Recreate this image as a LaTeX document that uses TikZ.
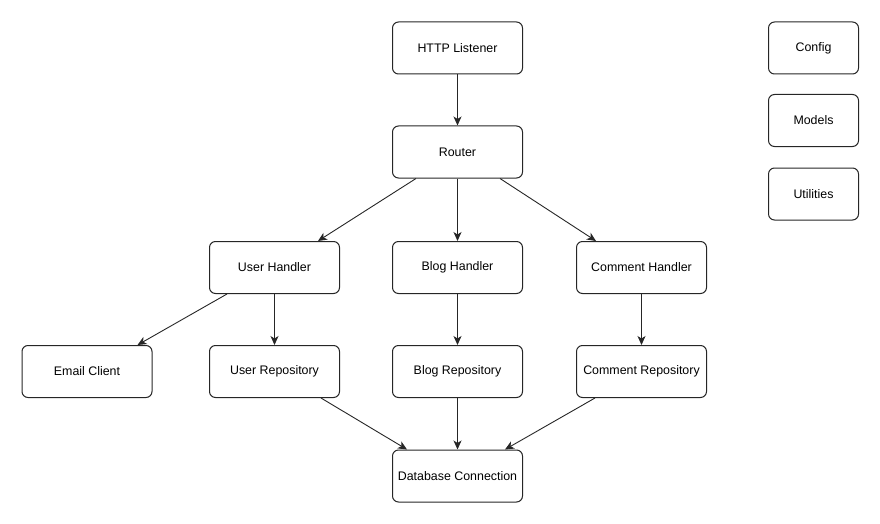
\documentclass[tikz,border=0pt]{standalone}
\usepackage{fontspec}
\setmainfont{Liberation Sans}
\usetikzlibrary{arrows.meta}
\tikzset{
         block/.style=
          {
           draw=black!85,line width=1pt,rounded corners=6pt,
           minimum width=130pt,minimum height=52pt,inner sep=0pt,
           font=\fontsize{12.4}{14}\selectfont
          },
         side block/.style={block,minimum width=90pt},
         link/.style={-{Stealth[length=9pt,width=8pt,inset=2.5pt]},line width=.9pt,draw=black!85}
        }

\begin{document}
\begin{tikzpicture}[x=1pt,y=-1pt]
\useasboundingbox(0,0)rectangle(880,524);
%request path
\node[block](http)at(457.5,48){HTTP Listener};
\node[block](router)at(457.5,152){Router};
%handlers
\node[block](userh)at(274.5,267.5){User Handler};
\node[block](blogh)at(457.5,267.5){Blog Handler};
\node[block](commh)at(641.5,267.5){Comment Handler};
%repositories
\node[block](email)at(87,371.5){Email Client};
\node[block](userr)at(274.5,371.5){User Repository};
\node[block](blogr)at(457.5,371.5){Blog Repository};
\node[block](commr)at(641.5,371.5){Comment Repository};
\node[block](db)at(457.5,476){Database Connection};
%shared packages
\node[side block](config)at(813.5,48){Config};
\node[side block](models)at(813.5,120.5){Models};
\node[side block](utils)at(813.5,194){Utilities};
%arrows
\draw[link](http)--(router);
\draw[link]([xshift=24pt]router.south west)--([xshift=-22pt]userh.north east);
\draw[link](router)--(blogh);
\draw[link]([xshift=-23pt]router.south east)--([xshift=20pt]commh.north west);
\draw[link]([xshift=18pt]userh.south west)--([xshift=-15pt]email.north east);
\draw[link](userh)--(userr);
\draw[link](blogh)--(blogr);
\draw[link](commh)--(commr);
\draw[link]([xshift=-19pt]userr.south east)--([xshift=15pt]db.north west);
\draw[link](blogr)--(db);
\draw[link]([xshift=19pt]commr.south west)--([xshift=-18pt]db.north east);
\end{tikzpicture}
\end{document}
